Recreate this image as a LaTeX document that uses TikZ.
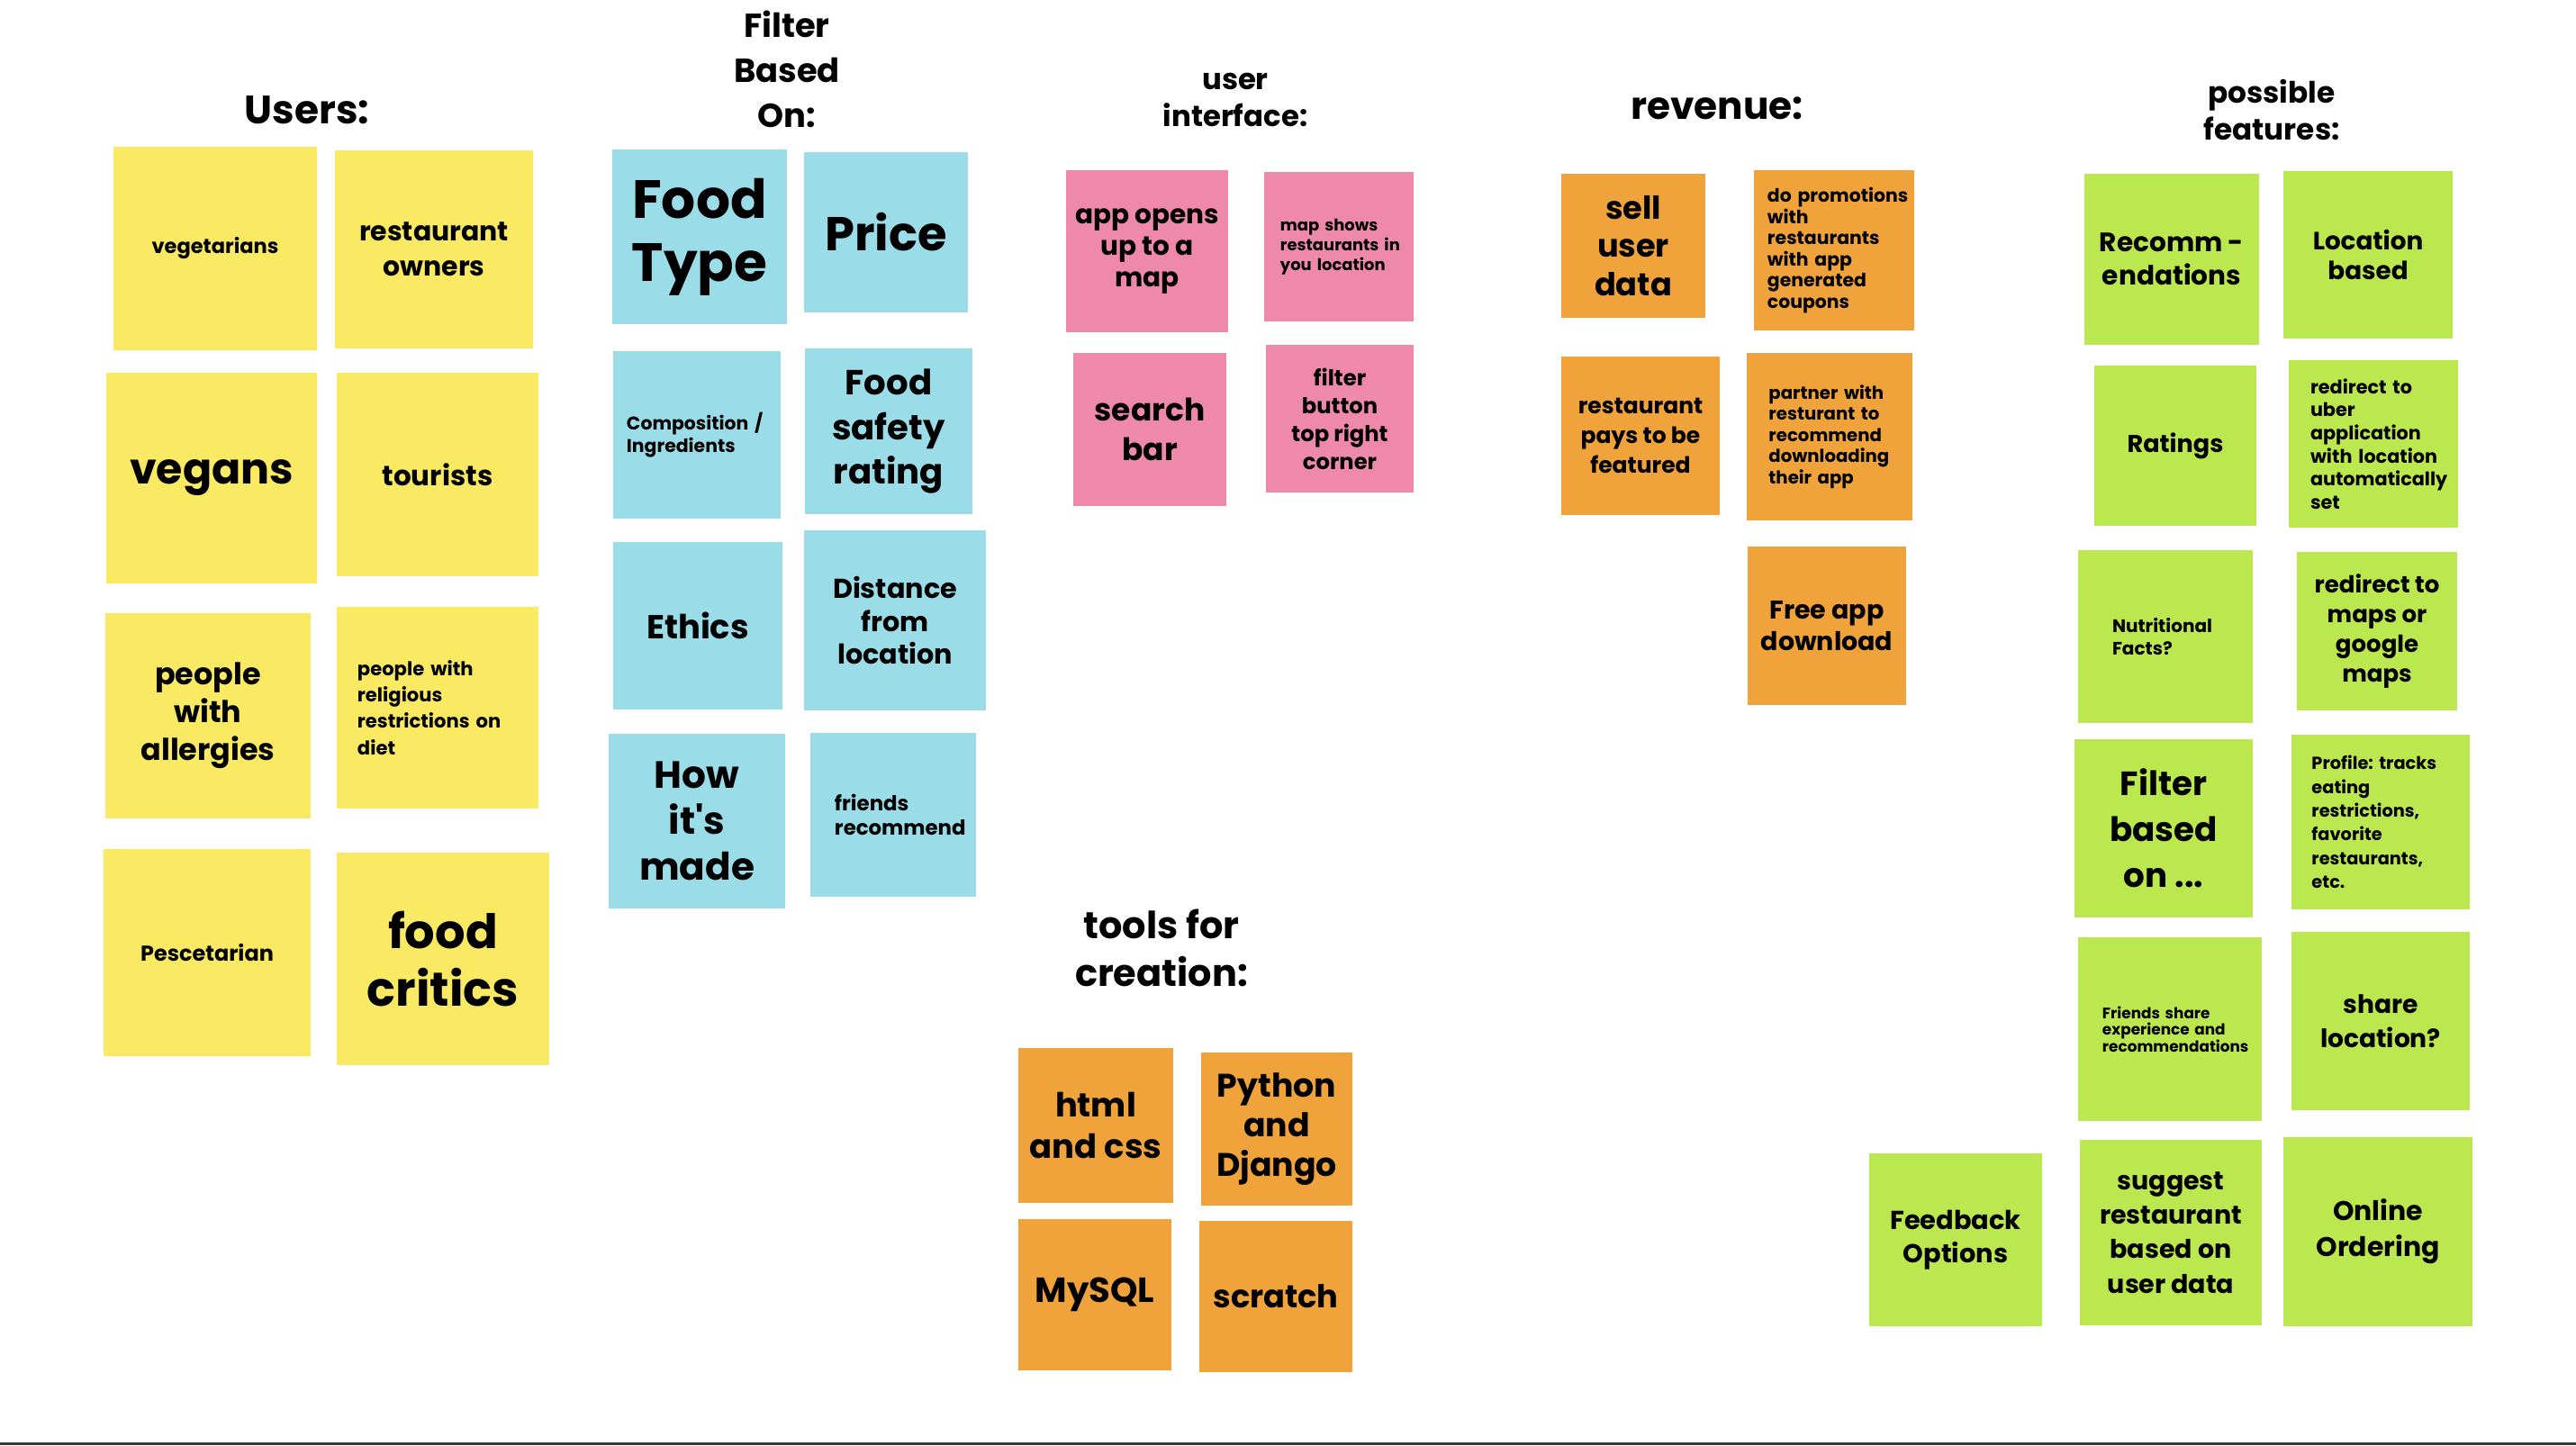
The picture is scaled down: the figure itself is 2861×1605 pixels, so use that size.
\documentclass[tikz,border=0pt]{standalone}
\usepackage{fontspec}
\setmainfont{Poppins}
\usepackage{tikz}

\definecolor{noteyellow}{HTML}{FAE962}
\definecolor{noteblue}{HTML}{9ADCE8}
\definecolor{notepink}{HTML}{EF89AC}
\definecolor{noteorange}{HTML}{F1A33B}
\definecolor{notegreen}{HTML}{BBE84E}
\definecolor{bottombar}{HTML}{383838}

\hyphenpenalty=10000
\exhyphenpenalty=10000

\begin{document}
\begin{tikzpicture}[x=0.01cm, y=-0.01cm]
    \tikzset{
        note/.style = {rectangle, inner sep=2pt, align=center},
        fs/.style 2 args = {font=\bfseries\fontsize{#1}{#2}\selectfont},
        notesize/.style 2 args = {minimum width=#1cm, minimum height=#2cm},
        leftnote/.style = {align=left, text width=#1cm},
        yellownote/.style = {note, fill=noteyellow},
        bluenote/.style = {note, fill=noteblue},
        pinknote/.style = {note, fill=notepink},
        orangenote/.style = {note, fill=noteorange},
        greennote/.style = {note, fill=notegreen},
        heading/.style = {align=center},
    }
    \useasboundingbox (0,0) rectangle (2861,1605);
    \fill[bottombar] (0,1602) rectangle (2861,1605);

    % users
    \node[heading, fs={12.5}{15}](usershead) at (341,122){Users:};
    \node[yellownote, fs={6.4}{8}, notesize={2.26}{2.25}](vegetarians) at (239,276){vegetarians};
    \node[yellownote, fs={8.5}{11}, notesize={2.19}{2.19}](owners) at (482,277){restaurant\\owners};
    \node[yellownote, fs={13.5}{16}, notesize={2.33}{2.34}](vegans) at (235,531){vegans};
    \node[yellownote, fs={8.8}{11}, notesize={2.24}{2.26}](tourists) at (486,527){tourists};
    \node[yellownote, fs={9.5}{12}, notesize={2.28}{2.28}](allergies) at (231,795){people\\with\\allergies};
    \node[yellownote, fs={6}{8.3}, notesize={2.24}{2.23}, leftnote=1.78](religious) at (486,786){people~with\\religious\\restrictions~on\\diet};
    \node[yellownote, fs={6.8}{8}, notesize={2.30}{2.30}](pescetarian) at (230,1058){Pescetarian};
    \node[yellownote, fs={15}{18}, notesize={2.35}{2.35}](critics) at (492,1065){food\\critics};

    % filter
    \node[heading, fs={10.5}{14.3}](filterhead) at (874,77){Filter\\Based\\On:};
    \node[bluenote, fs={17}{20}, notesize={1.93}{1.93}](foodtype) at (777,263){Food\\Type};
    \node[bluenote, fs={15}{18}, notesize={1.81}{1.77}](price) at (984,258){Price};
    \node[bluenote, fs={5.8}{7}, notesize={1.86}{1.85}, leftnote=1.56](composition) at (774,483){Composition~/\\Ingredients};
    \node[bluenote, fs={11}{14}, notesize={1.86}{1.84}](safety) at (987,479){Food\\safety\\rating};
    \node[bluenote, fs={10.5}{12}, notesize={1.88}{1.86}](ethics) at (775,695){Ethics};
    \node[bluenote, fs={8.6}{10.4}, notesize={2.01}{1.99}](distance) at (994,689){Distance\\from\\location};
    \node[bluenote, fs={12}{14.5}, notesize={1.95}{1.93}](howmade) at (774,912){How\\it\textquotesingle s\\made};
    \node[bluenote, fs={6.5}{7.5}, notesize={1.84}{1.82}, leftnote=1.30](friendsrec) at (992,905){friends\\recommend};

    % user interface
    \node[heading, fs={9.2}{11.4}](uihead) at (1372,111){user\\interface:};
    \node[pinknote, fs={8.4}{9.9}, notesize={1.79}{1.79}](appopens) at (1274,279){app opens\\up to a\\map};
    \node[pinknote, fs={5.1}{6.2}, notesize={1.66}{1.65}, leftnote=1.30](mapshows) at (1487,274){map~shows\\restaurants~in\\you~location};
    \node[pinknote, fs={9.8}{12.5}, notesize={1.70}{1.70}](searchbar) at (1277,477){search\\bar};
    \node[pinknote, fs={6.9}{8.8}, notesize={1.64}{1.64}](filterbtn) at (1488,465){filter\\button\\top right\\corner};

    % revenue
    \node[heading, fs={12}{15}](revenuehead) at (1907,120){revenue:};
    \node[orangenote, fs={10}{12}, notesize={1.60}{1.60}](selldata) at (1814,273){sell\\user\\data};
    \node[orangenote, fs={5.8}{6.7}, notesize={1.78}{1.78}, leftnote=1.48](promotions) at (2037,278){do~promotions\\with\\restaurants\\with~app\\generated\\coupons};
    \node[orangenote, fs={7.1}{9.3}, notesize={1.76}{1.76}](pays) at (1822,484){restaurant\\pays to be\\featured};
    \node[orangenote, fs={5.6}{6.7}, notesize={1.83}{1.85}, leftnote=1.35](partner) at (2032,485){partner~with\\resturant~to\\recommend\\downloading\\their~app};
    \node[orangenote, fs={8.1}{9.8}, notesize={1.76}{1.75}](freeapp) at (2029,695){Free app\\download};

    % tools
    \node[heading, fs={11.8}{15}](toolshead) at (1290,1053){tools for\\creation:};
    \node[orangenote, fs={10.5}{13}, notesize={1.72}{1.72}](html) at (1217,1250){html\\and css};
    \node[orangenote, fs={10.3}{12.5}, notesize={1.68}{1.69}](python) at (1418,1254){Python\\and\\Django};
    \node[orangenote, fs={11}{13}, notesize={1.70}{1.68}](mysql) at (1216,1438){MySQL};
    \node[orangenote, fs={10}{12}, notesize={1.70}{1.68}](scratch) at (1417,1440){scratch};

    % possible features
    \node[heading, fs={9.3}{11.4}](featureshead) at (2523,122){possible\\features:};
    \node[greennote, fs={8.4}{10.4}, notesize={1.94}{1.90}](recomm) at (2412,288){Recomm -\\endations};
    \node[greennote, fs={7.9}{9.3}, notesize={1.88}{1.86}](locbased) at (2630,283){Location\\based};
    \node[greennote, fs={7.7}{9}, notesize={1.79}{1.77}](ratings) at (2416,495){Ratings};
    \node[greennote, fs={5.9}{7.3}, notesize={1.88}{1.86}, leftnote=1.40](uber) at (2636,493){redirect~to\\uber\\application\\with~location\\automatically\\set};
    \node[greennote, fs={5.7}{7}, notesize={1.94}{1.92}, leftnote=1.18](nutrition) at (2405,707){Nutritional\\Facts?};
    \node[greennote, fs={7.4}{9.3}, notesize={1.77}{1.75}](maps) at (2640,701){redirect to\\maps or\\google\\maps};
    \node[greennote, fs={10.6}{14.5}, notesize={1.98}{1.97}](filterbased) at (2403,920){Filter\\based\\on ...};
    \node[greennote, fs={5.5}{7.5}, notesize={1.97}{1.93}, leftnote=1.53](profile) at (2644,913){Profile:~tracks\\eating\\restrictions,\\favorite\\restaurants,\\etc.};
    \node[greennote, fs={4.8}{5.2}, notesize={2.04}{2.04}, leftnote=1.50](friendsshare) at (2410,1143){Friends~share\\experience~and\\recommendations};
    \node[greennote, fs={8}{10.9}, notesize={1.98}{1.97}](sharelocation) at (2644,1134){share\\location?};
    \node[greennote, fs={8.2}{10.4}, notesize={1.92}{1.91}](feedback) at (2172,1377){Feedback\\Options};
    \node[greennote, fs={8.1}{10.9}, notesize={2.02}{2.05}](suggest) at (2411,1369){suggest\\restaurant\\based on\\user data};
    \node[greennote, fs={8.5}{11.4}, notesize={2.10}{2.09}](ordering) at (2641,1368){Online\\Ordering};

\end{tikzpicture}
\end{document}
